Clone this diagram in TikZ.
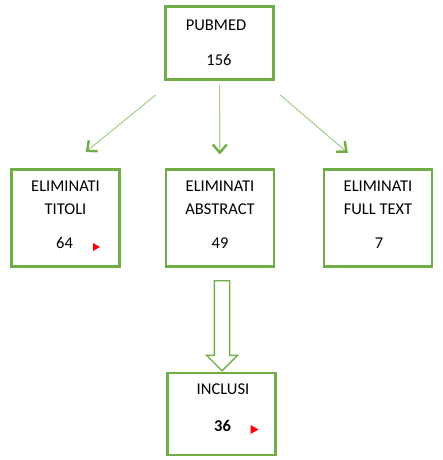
\documentclass[tikz,border=0pt]{standalone}
\usepackage{fontspec}
\setmainfont{Carlito}
\usetikzlibrary{arrows.meta,shapes.arrows}
\definecolor{grn}{HTML}{70AD47}
\definecolor{grnl}{HTML}{A9D18E}

\begin{document}
\begin{tikzpicture}[x=1pt,y=-1pt,
    box/.style={draw=grn,line width=2.2pt,minimum width=108pt,minimum height=97pt},
    txt/.style={inner sep=0pt,font=\fontsize{16.5}{19}\selectfont},
    conn/.style={draw=grnl,line width=1.1pt,
      -{Straight Barb[length=8pt,width=14pt,line width=2.4pt,color=grn]}}]
    \useasboundingbox (0,0) rectangle (443,460);
    % boxes
    \node[box,minimum height=73pt] (pub) at (219.5,43) {};
    \foreach \n/\x in {l/65.5,m/220,r/378}
      {\node[box] (\n) at (\x,218) {};}
    \node[box,minimum height=82pt] (incl) at (221.5,414) {};
    % texts
    \node[txt] (pubT) at (216,25) {PUBMED};
    \node[txt] (pubN) at (219,60) {156};
    \foreach \n/\x/\a/\b/\c in {l/65.5/TITOLI/64/-1,m/220/ABSTRACT/49/0,r/378/FULL TEXT/7/1}
      {\node[txt] (\n1) at (\x,186) {ELIMINATI};
       \node[txt] (\n2) at (\x,209) {\a};
       \node[txt] (\n3) at (\x+\c,243) {\b};}
    \node[txt] (inclT) at (223,389) {INCLUSI};
    \node[txt,font=\fontsize{16.5}{19}\selectfont\bfseries] (inclN) at (222.5,425.5) {36};
    \fill[red] (93,243) -- ++(7,4) -- ++(-7,4) -- cycle;
    \fill[red] (250.5,425) -- ++(8,4.5) -- ++(-8,4.5) -- cycle;
    % arrows
    \draw[conn,shorten <=23pt,shorten >=26pt] (pub) -- (l.north);
    \draw[conn,shorten <=4pt,shorten >=14pt] (pub) -- (m);
    \draw[conn,shorten <=22pt,shorten >=24pt] (pub) -- ([xshift=-12pt]r.north);
    \node[single arrow,rotate=-90,draw=grn,line width=1.3pt,fill=white,
      inner sep=7pt,minimum height=90pt,single arrow head extend=8pt] (flow) at (222,322) {};
  \end{tikzpicture}
\end{document}
